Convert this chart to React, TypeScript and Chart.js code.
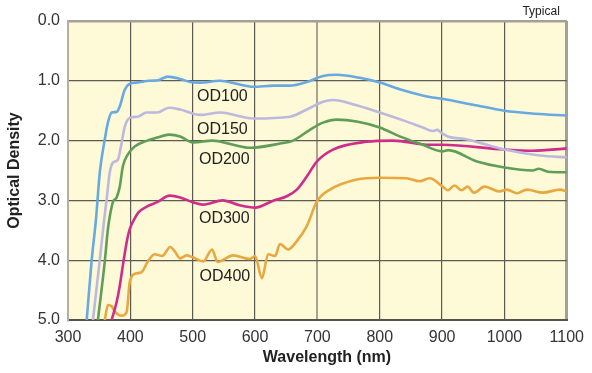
import React, { useEffect, useRef } from "react";
import { Chart, registerables } from "chart.js";

Chart.register(...registerables);

// ---- axis ticks ----
const xTickValues = [300, 400, 500, 600, 700, 800, 900, 1000, 1100];
const yTickValues = [0, 1, 2, 3, 4, 5];

// ---- series (wavelength nm / optical density) ----
const od100Wl = [330, 338, 345, 351, 359, 364, 370, 378, 383, 391, 399, 410, 431, 445, 460, 480, 496, 512, 544, 570, 597, 630, 656, 683, 709, 731, 768, 800, 832, 880, 900, 950, 1000, 1050, 1100];
const od100Val = [5.0, 4.0, 3.3, 2.53, 1.98, 1.7, 1.53, 1.52, 1.43, 1.15, 1.05, 1.03, 1.0, 0.99, 0.93, 0.97, 1.02, 1.03, 1.0, 1.05, 1.1, 1.08, 1.08, 1.02, 0.92, 0.9, 0.95, 1.03, 1.14, 1.27, 1.3, 1.4, 1.5, 1.55, 1.58];

const od150Wl = [340, 351, 358, 362, 367, 372, 380, 387, 391, 399, 412, 426, 443, 462, 480, 512, 544, 597, 656, 683, 709, 725, 760, 800, 840, 869, 885, 892, 900, 909, 940, 1000, 1057, 1100];
const od150Val = [5.0, 4.0, 3.32, 2.98, 2.53, 2.37, 2.32, 1.98, 1.77, 1.62, 1.6, 1.53, 1.53, 1.45, 1.48, 1.57, 1.53, 1.63, 1.6, 1.48, 1.35, 1.32, 1.4, 1.53, 1.67, 1.78, 1.84, 1.82, 1.88, 1.93, 1.98, 2.15, 2.25, 2.28];

const od200Wl = [348, 359, 364, 367, 372, 378, 383, 388, 396, 407, 427, 443, 462, 480, 500, 532, 565, 592, 640, 661, 688, 709, 731, 763, 800, 832, 869, 900, 910, 956, 1000, 1045, 1055, 1070, 1100];
const od200Val = [5.0, 4.02, 3.48, 3.27, 3.03, 2.95, 2.77, 2.43, 2.23, 2.1, 2.0, 1.95, 1.9, 1.93, 2.03, 2.0, 2.07, 2.12, 2.05, 2.0, 1.82, 1.7, 1.65, 1.68, 1.78, 1.93, 2.07, 2.18, 2.16, 2.35, 2.45, 2.5, 2.47, 2.52, 2.53];

const od300Wl = [370, 378, 383, 389, 395, 399, 407, 413, 427, 443, 463, 480, 500, 517, 548, 575, 600, 630, 651, 667, 683, 699, 725, 779, 821, 880, 900, 1000, 1045, 1100];
const od300Val = [5.0, 4.7, 4.43, 4.02, 3.65, 3.48, 3.3, 3.2, 3.1, 3.03, 2.92, 2.95, 3.03, 3.07, 3.0, 3.08, 3.12, 3.0, 2.93, 2.82, 2.6, 2.35, 2.15, 2.02, 2.0, 2.07, 2.07, 2.15, 2.17, 2.13];

const od400Wl = [359, 364, 370, 376, 386, 394, 399, 407, 418, 428, 439, 451, 464, 471, 480, 490, 500, 517, 531, 540, 565, 592, 600, 611, 621, 632, 640, 653, 667, 683, 699, 720, 763, 800, 843, 864, 880, 901, 909, 920, 931, 941, 951, 968, 992, 1004, 1020, 1036, 1062, 1089, 1100];
const od400Val = [5.0, 4.75, 4.77, 4.87, 4.93, 4.87, 4.37, 4.23, 4.2, 4.02, 3.9, 3.93, 3.78, 3.85, 3.97, 3.92, 3.95, 4.02, 3.82, 4.03, 3.92, 3.98, 3.93, 4.3, 3.9, 3.93, 3.73, 3.82, 3.68, 3.43, 3.02, 2.82, 2.65, 2.62, 2.63, 2.68, 2.63, 2.77, 2.83, 2.75, 2.83, 2.77, 2.87, 2.77, 2.85, 2.82, 2.88, 2.82, 2.87, 2.82, 2.85];

const seriesNames = ["OD100", "OD150", "OD200", "OD300", "OD400"];
const seriesColors = ["#68a9e2", "#bdb8dd", "#5f9e57", "#cf2c8c", "#e9a83f"];

// ---- in-plot curve labels (data coordinates) ----
const curveLabelWl = [507, 507, 510, 510, 511];
const curveLabelOd = [1.27, 1.82, 2.32, 3.3, 4.27];

const FONT = "'Liberation Sans', Arial, sans-serif";

const toPoints = (wl: number[], v: number[]) => wl.map((w, i) => ({ x: w, y: v[i] }));

export default function App() {
  const ref = useRef<HTMLCanvasElement>(null);

  useEffect(() => {
    document.body.style.margin = "0";
    const bgPlugin = {
      id: "bg",
      beforeDraw(chart: any) {
        const { ctx, chartArea } = chart;
        ctx.save();
        ctx.fillStyle = "#ffffff";
        ctx.fillRect(0, 0, chart.width, chart.height);
        ctx.fillStyle = "#fef9d7";
        ctx.fillRect(chartArea.left, chartArea.top, chartArea.right - chartArea.left, chartArea.bottom - chartArea.top);
        ctx.restore();
      },
    };
    const textPlugin = {
      id: "texts",
      afterDatasetsDraw(chart: any) {
        const { ctx, scales, chartArea } = chart;
        const x = scales.x;
        const y = scales.y;
        ctx.save();
        ctx.fillStyle = "#222222";
        ctx.textBaseline = "middle";
        ctx.textAlign = "left";
        ctx.font = `16px ${FONT}`;
        seriesNames.forEach((n, i) => {
          ctx.fillText(n, x.getPixelForValue(curveLabelWl[i]), y.getPixelForValue(curveLabelOd[i]));
        });
        ctx.textAlign = "right";
        ctx.font = `12px ${FONT}`;
        ctx.fillText("Typical", chartArea.right - 7, 12);
        ctx.font = `bold 16px ${FONT}`;
        ctx.textAlign = "center";
        ctx.fillStyle = "#222222";
        ctx.fillText("Wavelength (nm)", 327, 358);
        ctx.restore();
      },
    };

    const xs = [od100Wl, od150Wl, od200Wl, od300Wl, od400Wl];
    const vs = [od100Val, od150Val, od200Val, od300Val, od400Val];

    const chart = new Chart(ref.current as HTMLCanvasElement, {
      type: "line",
      data: {
        datasets: seriesNames.map((n, i) => ({
          label: n,
          data: toPoints(xs[i], vs[i]),
          borderColor: seriesColors[i],
          borderWidth: 2.6,
          pointRadius: 0,
          cubicInterpolationMode: "monotone" as const,
          fill: false,
        })),
      },
      options: {
        responsive: false,
        animation: false,
        events: [],
        layout: { padding: { top: 21, right: 25, left: 0, bottom: 0 } },
        plugins: { legend: { display: false }, tooltip: { enabled: false } },
        scales: {
          x: {
            type: "linear",
            min: 300,
            max: 1100,
            afterBuildTicks: (s: any) => {
              s.ticks = xTickValues.map((v) => ({ value: v }));
            },
            afterFit: (s: any) => {
              s.height = 53;
            },
            ticks: {
              color: "#333333",
              font: { family: FONT, size: 16 },
              padding: 8,
              maxRotation: 0,
              autoSkip: false,
              callback: (v: any) => String(v),
            },
            grid: {
              drawTicks: false,
              color: (c: any) => {
                const v = c.tick && c.tick.value;
                if (v === 700) return "#aaa391";
                if (v === 1100) return "#a3a097";
                if (v === 300) return "#b3afa3";
                return "#5d5c54";
              },
              lineWidth: (c: any) => {
                const v = c.tick && c.tick.value;
                if (v === 700) return 2;
                if (v === 1100) return 3;
                if (v === 300) return 2;
                return 1.2;
              },
            },
            border: { display: true, color: "#55544c", width: 2 },
          },
          y: {
            type: "linear",
            reverse: true,
            min: 0,
            max: 5,
            afterBuildTicks: (s: any) => {
              s.ticks = yTickValues.map((v) => ({ value: v }));
            },
            afterFit: (s: any) => {
              s.width = 68;
            },
            ticks: {
              color: "#333333",
              font: { family: FONT, size: 16 },
              padding: 8,
              autoSkip: false,
              callback: (v: any) => Number(v).toFixed(1),
            },
            grid: {
              drawTicks: false,
              color: (c: any) => {
                const v = c.tick && c.tick.value;
                if (v === 0) return "#a3a097";
                if (v === 5) return "#55544c";
                return "#5d5c54";
              },
              lineWidth: (c: any) => {
                const v = c.tick && c.tick.value;
                if (v === 0) return 2.5;
                if (v === 5) return 2;
                return 1.2;
              },
            },
            border: { display: true, color: "#b3afa3", width: 2 },
            title: {
              display: true,
              text: "Optical Density",
              color: "#222222",
              font: { family: FONT, size: 16, weight: "bold" },
              padding: { top: 5, bottom: 0 },
            },
          },
        },
      },
      plugins: [bgPlugin, textPlugin],
    });
    return () => chart.destroy();
  }, []);

  return (
    <div style={{ width: 592, height: 373 }}>
      <canvas ref={ref} width={592} height={373} style={{ display: "block" }} />
    </div>
  );
}
